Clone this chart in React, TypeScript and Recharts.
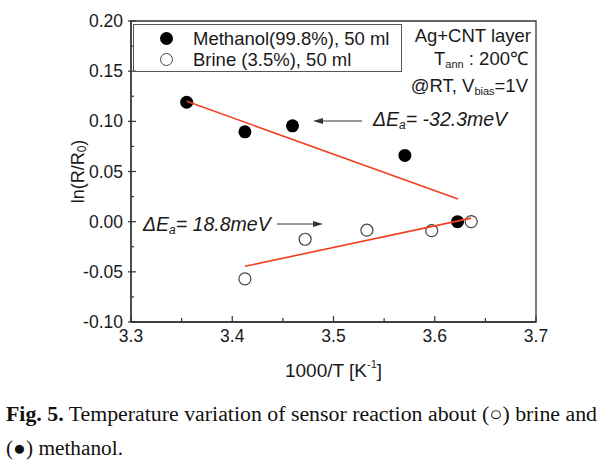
import { ScatterChart, Scatter, XAxis, YAxis, ReferenceArea, Legend } from "recharts";

document.body.style.margin = "0";

// 1000/T [1/K] and ln(R/R0)
const methanolT = [3.355, 3.4125, 3.4595, 3.5705, 3.6225];
const methanolLnR = [0.119, 0.0895, 0.0955, 0.066, 0.0];
const brineT = [3.4125, 3.472, 3.533, 3.597, 3.636];
const brineLnR = [-0.057, -0.0175, -0.0085, -0.009, 0.0];

// linear fits (end points)
const fitMethanolT = [3.355, 3.623];
const fitMethanolLnR = [0.12, 0.0225];
const fitBrineT = [3.4125, 3.636];
const fitBrineLnR = [-0.0445, 0.0035];

const xTicks = [3.3, 3.35, 3.4, 3.45, 3.5, 3.55, 3.6, 3.65, 3.7];
const yTicks = [-0.1, -0.075, -0.05, -0.025, 0, 0.025, 0.05, 0.075, 0.1, 0.125, 0.15, 0.175, 0.2];

const methanolName = "Methanol(99.8%), 50 ml";
const brineName = "Brine (3.5%), 50 ml";
const legendOrder = [methanolName, brineName];

const zip = (xs: number[], ys: number[]) => xs.map((x, i) => ({ x, y: ys[i] }));
const methanol = zip(methanolT, methanolLnR);
const brine = zip(brineT, brineLnR);
const fitMethanol = zip(fitMethanolT, fitMethanolLnR);
const fitBrine = zip(fitBrineT, fitBrineLnR);

const FONT = "'Liberation Sans', Arial, sans-serif";
const INK = "#1a1a1a";
const AXIS = "#333";
const FIT = "#f0401e";

const XTick = ({ x, y, payload }: any) => {
  const v = payload.value;
  const major = Math.round(v * 100) % 10 === 0;
  return (
    <g>
      <line x1={x} x2={x} y1={y} y2={y - (major ? 6 : 4)} stroke={AXIS} strokeWidth={1.2} />
      {major && (
        <text x={x} y={y + 14} textAnchor="middle" dominantBaseline="central" fontFamily={FONT} fontSize={17.5} fill={INK}>
          {v.toFixed(1)}
        </text>
      )}
    </g>
  );
};

const YTick = ({ x, y, payload }: any) => {
  const v = payload.value;
  const major = Math.round(v * 1000) % 50 === 0;
  return (
    <g>
      <line x1={major ? x - 3 : x} x2={x + (major ? 5 : 3)} y1={y} y2={y} stroke={AXIS} strokeWidth={1.2} />
      {major && (
        <text x={x - 8} y={y} textAnchor="end" dominantBaseline="central" fontFamily={FONT} fontSize={17.5} fill={INK}>
          {v.toFixed(2)}
        </text>
      )}
    </g>
  );
};

const YLabel = ({ viewBox }: any) => {
  const cx = viewBox.x + 7;
  const cy = viewBox.y + viewBox.height / 2;
  return (
    <text x={cx} y={cy} transform={`rotate(-90 ${cx} ${cy})`} textAnchor="middle" dominantBaseline="central"
      fontFamily={FONT} fontSize={18} fill={INK}>
      ln(R/R<tspan dy={4} fontSize={12}>0</tspan><tspan dy={-4}>)</tspan>
    </text>
  );
};

const XLabel = ({ viewBox }: any) => {
  const cx = viewBox.x + viewBox.width / 2;
  const cy = viewBox.y + 48;
  return (
    <text x={cx} y={cy} textAnchor="middle" dominantBaseline="central" fontFamily={FONT} fontSize={19} fill={INK}>
      1000/T [K<tspan dy={-6} fontSize={11}>-1</tspan><tspan dy={6}>]</tspan>
    </text>
  );
};

const LegendBox = ({ payload }: any) => {
  const names = legendOrder.filter((n) => (payload || []).some((e: any) => e.value === n));
  return (
    <div style={{ width: 269, height: 48, border: "1px solid #555", boxSizing: "border-box", fontFamily: FONT, fontSize: 18.5, color: INK, paddingTop: 3 }}>
      {names.map((name) => (
        <div key={name} style={{ display: "flex", alignItems: "center", height: 21, lineHeight: "21px" }}>
          <div style={{ width: 59, display: "flex", justifyContent: "flex-end", paddingRight: 20, boxSizing: "border-box" }}>
            {name === methanolName
              ? <div style={{ width: 13, height: 13, borderRadius: "50%", background: "#000" }} />
              : <div style={{ width: 11, height: 11, borderRadius: "50%", background: "#fff", border: "1.2px solid #444" }} />}
          </div>
          <span>{name}</span>
        </div>
      ))}
    </div>
  );
};

const App = () => {
  return (
    <div style={{ position: "relative", width: 609, height: 466, background: "#fff" }}>
      <ScatterChart width={609} height={390} margin={{ top: 21, right: 73, bottom: 38, left: 71 }}>
        <XAxis type="number" dataKey="x" domain={[3.3, 3.7]} ticks={xTicks} interval={0} height={30}
          tickSize={0} tickMargin={0} tickLine={false} tick={<XTick />} axisLine={{ stroke: AXIS, strokeWidth: 1.3 }}
          label={<XLabel />} allowDataOverflow />
        <YAxis type="number" dataKey="y" domain={[-0.1, 0.2]} ticks={yTicks} interval={0} width={60}
          tickSize={0} tickMargin={0} tickLine={false} tick={<YTick />} axisLine={{ stroke: AXIS, strokeWidth: 1.3 }}
          label={<YLabel />} allowDataOverflow />
        <ReferenceArea x1={3.3} x2={3.7} y1={-0.1} y2={0.2} fill="none" stroke={AXIS} strokeWidth={1.3} />
        <Legend layout="vertical" align="center" verticalAlign="middle" content={<LegendBox />}
          wrapperStyle={{ left: 133, top: 24, width: 269 }} />
        <Scatter name={methanolName} data={methanol} isAnimationActive={false}
          shape={(p: any) => <circle cx={p.cx} cy={p.cy} r={6.5} fill="#000" />} />
        <Scatter name={brineName} data={brine} isAnimationActive={false}
          shape={(p: any) => <circle cx={p.cx} cy={p.cy} r={6} fill="#fff" stroke="#444" strokeWidth={1.2} />} />
        <Scatter data={fitMethanol} legendType="none" isAnimationActive={false}
          line={{ stroke: FIT, strokeWidth: 1.6 }} shape={() => <g />} />
        <Scatter data={fitBrine} legendType="none" isAnimationActive={false}
          line={{ stroke: FIT, strokeWidth: 1.6 }} shape={() => <g />} />
      </ScatterChart>

      {/* annotations and caption */}
      <svg width={609} height={466} style={{ position: "absolute", left: 0, top: 0, pointerEvents: "none" }}>
        <g fontFamily={FONT} fontSize={18.5} fill={INK}>
          <text x={531} y={35} textAnchor="end" dominantBaseline="central">Ag+CNT layer</text>
          <text x={528} y={58} textAnchor="end" dominantBaseline="central">
            T<tspan dy={6} fontSize={11}>ann</tspan><tspan dy={-6}> : 200℃</tspan>
          </text>
          <text x={528} y={85} textAnchor="end" dominantBaseline="central">
            @RT, V<tspan dy={6} fontSize={11}>bias</tspan><tspan dy={-6}>=1V</tspan>
          </text>
          <text x={373} y={119} dominantBaseline="central" fontStyle="italic" fontSize={19.5}>
            ΔE<tspan dy={6} fontSize={12}>a</tspan><tspan dy={-6}>= -32.3meV</tspan>
          </text>
          <text x={143} y={224} dominantBaseline="central" fontStyle="italic" fontSize={19.5}>
            ΔE<tspan dy={6} fontSize={12}>a</tspan><tspan dy={-6}>= 18.8meV</tspan>
          </text>
        </g>
        <line x1={318} x2={362} y1={121} y2={121} stroke={AXIS} strokeWidth={1} />
        <polygon points="313,121 323,118 323,124" fill={AXIS} />
        <line x1={277} x2={318} y1={224} y2={224} stroke={AXIS} strokeWidth={1} />
        <polygon points="323,224 313,221 313,227" fill={AXIS} />

        <g fontFamily="'Liberation Serif', 'Times New Roman', serif" fontSize={20.5} fill="#111">
          <text x={6} y={421} textLength={591} lengthAdjust="spacingAndGlyphs">
            <tspan fontWeight="bold">Fig. 5.</tspan> Temperature variation of sensor reaction about (○) brine and
          </text>
          <text x={6} y={455} textLength={117} lengthAdjust="spacingAndGlyphs">(●) methanol.</text>
        </g>
      </svg>
    </div>
  );
};

export default App;
